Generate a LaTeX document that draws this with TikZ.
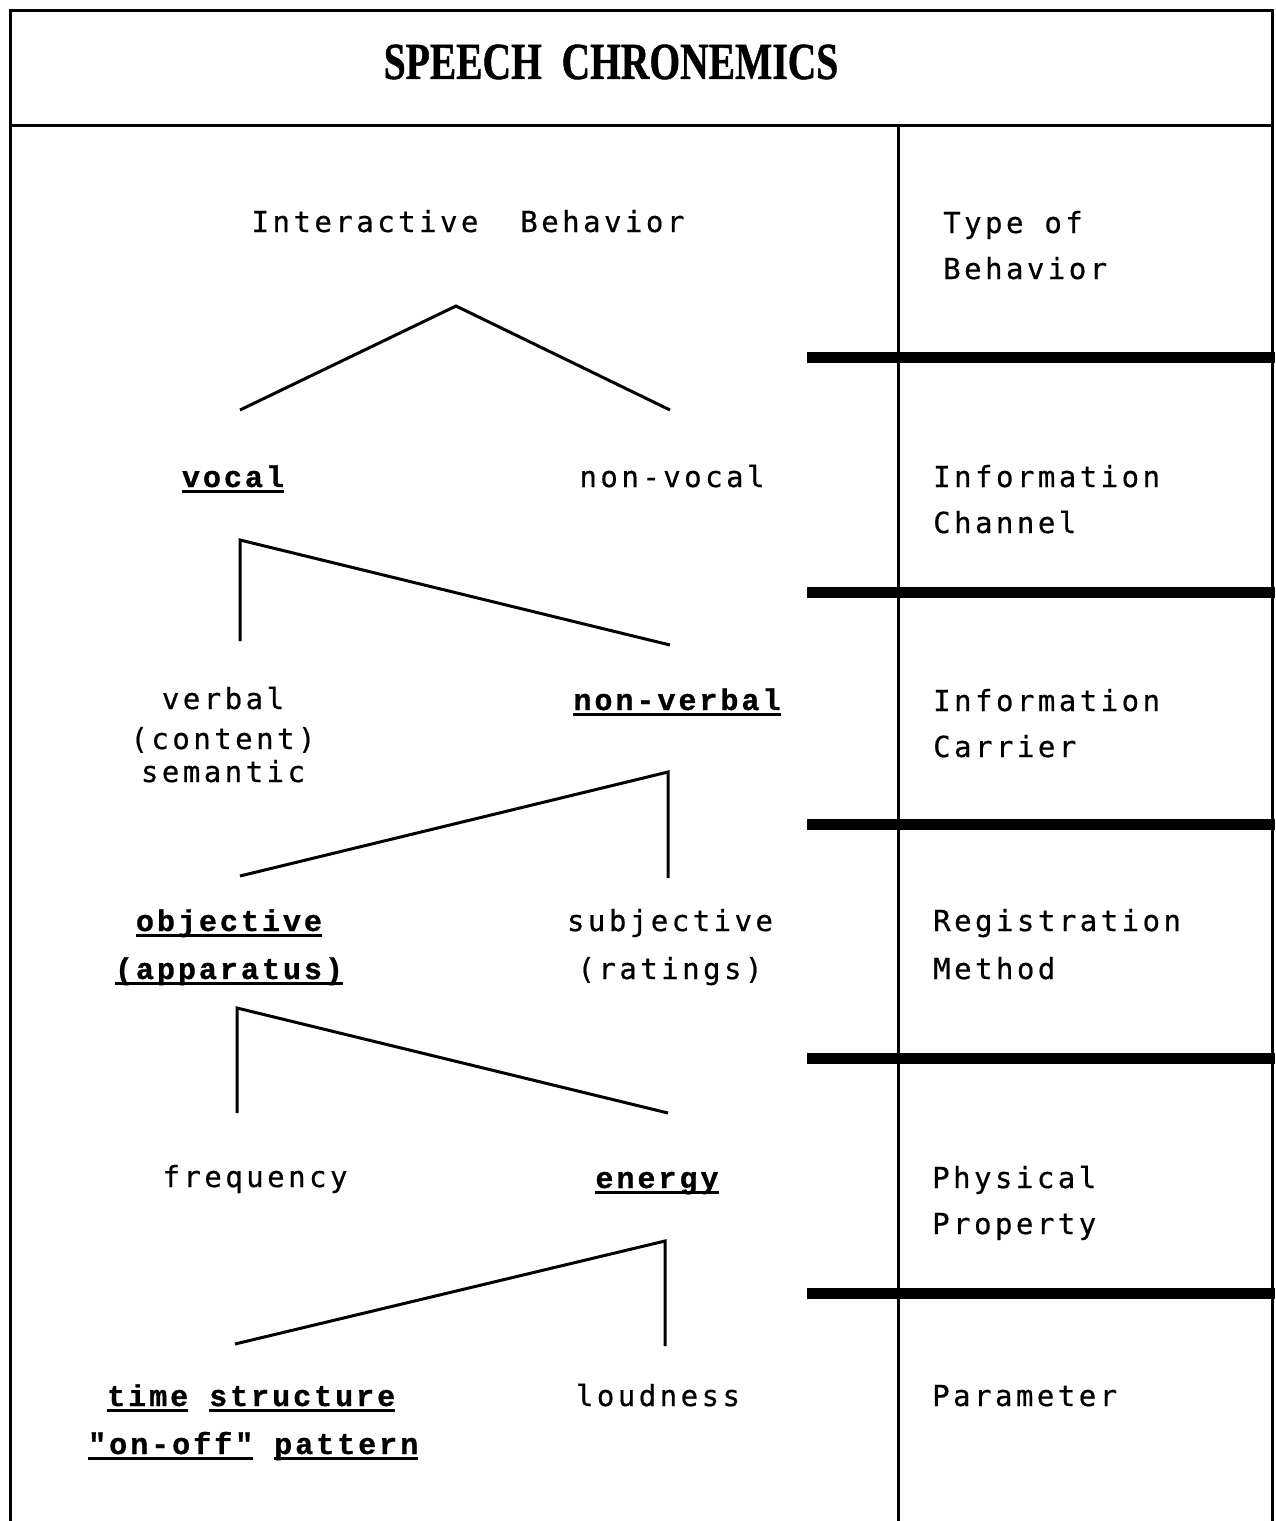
\documentclass[tikz,border=0pt]{standalone}
\usepackage{fontspec}
\usepackage{graphicx}
\newfontfamily\regfont{DejaVu Sans Mono}[LetterSpace=12,FakeBold=0.6]
\newfontfamily\boldfont{Liberation Mono}[LetterSpace=10,FakeBold=1]
\newfontfamily\titlefont{Liberation Serif}[FakeBold=1]
\newcommand\ulword[1]{\setbox0\hbox{#1}\rlap{\rule[-6pt]{\wd0}{2.6pt}}\box0\relax}
\tikzset{
  reg/.style={font=\regfont\fontsize{29}{34}\selectfont, inner sep=0pt, anchor=base},
  regl/.style={reg, anchor=base west},
  bld/.style={font=\boldfont\bfseries\fontsize{30}{34}\selectfont, inner sep=0pt, anchor=base},
  bldl/.style={bld, anchor=base west},
  tree/.style={line width=3pt, line join=miter},
  bar/.style={line width=11pt},
  frame/.style={line width=3pt}
}
\begin{document}
\begin{tikzpicture}[x=1pt,y=-1pt]
\useasboundingbox (0,0) rectangle (1275,1521);
% frame
\draw[frame] (10,1521) -- (10,10) -- (1272,10) -- (1272,1521);
\draw[frame] (10,125) -- (1272,125);
\draw[frame] (898,125) -- (898,1521);
% thick level bars
\foreach \yy in {357,592,824,1058,1293} \draw[bar] (807,\yy) -- (1275,\yy);
% title
\node[font=\titlefont\bfseries\fontsize{52}{60}\selectfont, inner sep=0pt] (title) at (611,62) {\scalebox{0.76}[1]{SPEECH\ \ CHRONEMICS}};
% left column texts
\node[reg] (ib) at (468,232) {Interactive\ \ Behavior};
\node[bld] (vocal) at (233,487) {\ulword{vocal}};
\node[reg] (nonvocal) at (672,487) {non-vocal};
\node[reg] (verbal1) at (223,709) {verbal};
\node[reg] (verbal2) at (223,749) {(content)};
\node[reg] (verbal3) at (223,782) {semantic};
\node[bld] (nonverbal) at (677,710) {\ulword{non-verbal}};
\node[bld] (obj1) at (229,931) {\ulword{objective}};
\node[bld] (obj2) at (229,979) {\ulword{(apparatus)}};
\node[reg] (subj1) at (670,931) {subjective};
\node[reg] (subj2) at (670,979) {(ratings)};
\node[reg] (freq) at (255,1187) {frequency};
\node[bld] (energy) at (657,1188) {\ulword{energy}};
\node[bldl] (time1) at (107,1406) {\ulword{time} \ulword{structure}};
\node[bldl] (time2) at (88,1454) {\ulword{"on-off"} \ulword{pattern}};
\node[reg] (loud) at (658,1406) {loudness};
% right column texts
\node[regl] (r1a) at (943,233) {Type of};
\node[regl] (r1b) at (943,279) {Behavior};
\node[regl] (r2a) at (933,487) {Information};
\node[regl] (r2b) at (933,533) {Channel};
\node[regl] (r3a) at (933,711) {Information};
\node[regl] (r3b) at (933,757) {Carrier};
\node[regl] (r4a) at (933,931) {Registration};
\node[regl] (r4b) at (933,979) {Method};
\node[regl] (r5a) at (932,1188) {Physical};
\node[regl] (r5b) at (932,1234) {Property};
\node[regl] (r6a) at (932,1406) {Parameter};
% tree connectors
\coordinate (t1l) at (240,410); \coordinate (t1a) at (456,306); \coordinate (t1r) at (670,410);
\draw[tree] (t1l) -- (t1a) -- (t1r);
\coordinate (t2b) at (240,641); \coordinate (t2a) at (240,540); \coordinate (t2r) at (670,645);
\draw[tree] (t2b) -- (t2a) -- (t2r);
\coordinate (t3l) at (240,876); \coordinate (t3a) at (668,772); \coordinate (t3b) at (668,878);
\draw[tree] (t3l) -- (t3a) -- (t3b);
\coordinate (t4b) at (237,1113); \coordinate (t4a) at (237,1008); \coordinate (t4r) at (668,1113);
\draw[tree] (t4b) -- (t4a) -- (t4r);
\coordinate (t5l) at (235,1344); \coordinate (t5a) at (665,1241); \coordinate (t5b) at (665,1346);
\draw[tree] (t5l) -- (t5a) -- (t5b);
\end{tikzpicture}
\end{document}
